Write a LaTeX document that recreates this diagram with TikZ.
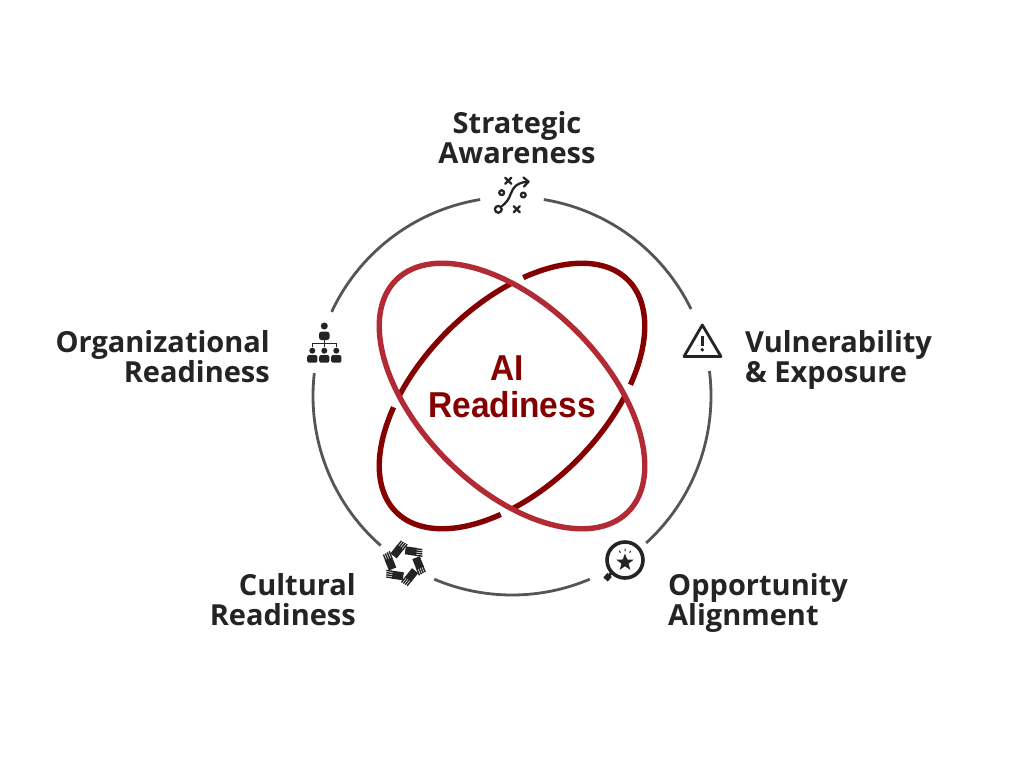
\documentclass[tikz,border=0pt]{standalone}
\usepackage{fontspec}
\setmainfont{Open Sans}
\newfontfamily\corefont[FakeStretch=0.93]{Liberation Sans}
\usetikzlibrary{calc,shapes.geometric}
\definecolor{darkred}{HTML}{850000}
\definecolor{lightred}{HTML}{B22A33}
\definecolor{ringgray}{HTML}{555555}
\definecolor{ink}{HTML}{222426}

\begin{document}
\begin{tikzpicture}[x=1pt,y=-1pt]
    \tikzstyle{caption}=[font=\fontsize{29}{30}\selectfont\bfseries, text=ink, inner sep=0pt]
    \tikzstyle{core}=[font=\corefont\fontsize{36}{36}\selectfont\bfseries, text=darkred, align=center, inner sep=0pt]
    \tikzstyle{ring}=[ringgray, line width=2.8pt]
    \tikzstyle{orbit}=[line width=5.4pt]
    \tikzstyle{glyph}=[ink, line width=2.3pt, line cap=round, line join=round]

    \useasboundingbox (0,0) rectangle (1024,768);
    \fill[white] (0,0) rectangle (1024,768);
    \coordinate (c) at (512,396);

    % outer ring
    \foreach \a/\b in {80.8/25.9, 7.2/-47.6, -67/-113, -131.3/-186.6, 155/99.2}
        \draw[ring] ([shift={(\a:199pt)}]c) arc[start angle=\a, end angle=\b, radius=199pt];

    % orbits
    \begin{scope}[shift={(c)}, x=1pt, y=1pt]
        \begin{scope}[rotate=45]
            \foreach \a/\b in {-56/56, 60.8/119.2, 124/236, 240.8/299.2}
                \draw[orbit, darkred] plot[domain=\a:\b, samples=70, smooth] ({164*cos(\x)},{91.4*sin(\x)});
        \end{scope}
        \draw[orbit, lightred, rotate=-45] (0,0) ellipse (164 and 91.4);
    \end{scope}

    \node[core] (airead) at (512,387) {AI\rule{9pt}{0pt}\\[1pt]Readiness};

    \node[caption, align=center] (strategic) at (517,138) {Strategic\\Awareness};
    \node[caption, align=left, anchor=west] (vulnerability) at (745,360) {Vulnerability\\\& Exposure};
    \node[caption, align=left, anchor=west] (opportunity) at (668,603) {Opportunity\\Alignment};
    \node[caption, align=right, anchor=east] (cultural) at (356,600) {Cultural\\Readiness};
    \node[caption, align=right, anchor=east] (organizational) at (270,357) {Organizational\\Readiness};

    % play icon
    \draw[glyph] (498.3,209.3) circle (3.4);
    \draw[glyph] (501.7,192.7) circle (2.4);
    \draw[glyph] (523.3,195) circle (2.4);
    \foreach \p in {(508.3,180.7),(516.7,209.3)}
        \draw[glyph] \p ++(-3,-3) -- ++(6,6) ++(-6,0) -- ++(6,-6);
    \draw[glyph] (502,206) .. controls (510,200) and (510,194) .. (513,189) .. controls (516,184) and (522,182) .. (528,181.7);
    \draw[glyph] (523.5,177.5) -- (528.5,181.7) -- (524,186.5);

    % warning icon
    \draw[glyph, line width=2.8pt] (702.3,325) -- (721,356.5) -- (684,356.5) -- cycle;
    \draw[glyph, line width=3pt, line cap=butt] (702.3,336) -- (702.3,345.5);
    \fill[ink] (702.3,349.8) circle (1.9);

    % magnifier icon
    \draw[glyph, line width=3.6pt] (625,560) circle (18);
    \draw[ink, line width=3pt] (612.5,571.5) -- (609,575.5);
    \draw[ink, line width=6pt] (609.5,575) -- (605.5,579.5);
    \node[star, star points=5, star point ratio=2.4, fill=ink, minimum size=18pt, inner sep=0pt] (badge) at (625,562.5) {};
    \draw[glyph, line width=1pt] (619.5,551) -- (620.3,552.5) (625,549) -- (625,551) (630.5,551) -- (629.7,552.5);

    % hands icon
    \begin{scope}[shift={(404.3,563.3)}, x=1pt, y=1pt]
        \foreach \r in {0,-60,...,-300} {
            \begin{scope}[rotate=\r]
                \draw[ink, line width=8pt] (1,13) -- (12,11.4);
                \foreach \o in {-3.3,-1.1,1.1,3.3}
                    \draw[ink, line width=1.4pt] (11,{11.4+\o}) -- (18,{10.4+\o});
            \end{scope}
        }
    \end{scope}

    % hierarchy icon
    \fill[ink] (324.3,326) circle (3.5);
    \fill[ink, rounded corners=2.5pt] (319,340) -- (319,331.7) -- (329.6,331.7) -- (329.6,340) -- cycle;
    \draw[ink, line width=1.2pt] (324.3,340) -- (324.3,347.3) (312.3,347.3) -- (312.3,343.3) -- (336.3,343.3) -- (336.3,347.3);
    \foreach \x in {312.3,324.3,336.3} {
        \fill[ink] (\x,350.7) circle (3);
        \fill[ink, rounded corners=2pt] (\x-5.1,362.7) -- (\x-5.1,355) -- (\x+5.1,355) -- (\x+5.1,362.7) -- cycle;
    }
\end{tikzpicture}
\end{document}
